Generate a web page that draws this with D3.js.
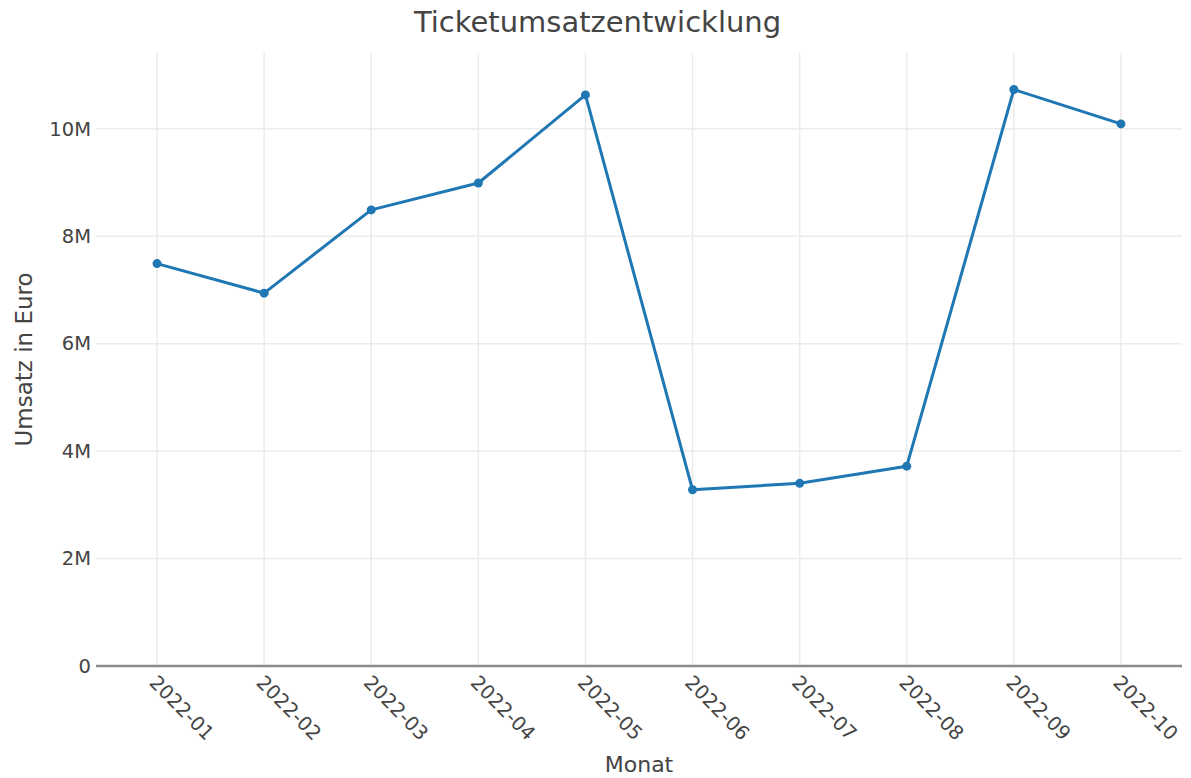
<!DOCTYPE html>
<html><head><meta charset="utf-8">
<script src="https://cdn.jsdelivr.net/npm/d3@7"></script>
<style>body{margin:0;background:#fff}svg{display:block}</style>
</head><body>
<svg id="c" width="1191" height="778"></svg>
<script>
const months = ["2022-01","2022-02","2022-03","2022-04","2022-05","2022-06","2022-07","2022-08","2022-09","2022-10"];
const revenue = [7490000,6940000,8490000,8990000,10630000,3280000,3400000,3720000,10730000,10090000];
const yTicks = [0,2000000,4000000,6000000,8000000,10000000];
const yTickLabels = ["0","2M","4M","6M","8M","10M"];
const title = "Ticketumsatzentwicklung";
const xTitle = "Monat";
const yTitle = "Umsatz in Euro";

const W=1191,H=778;
const m={l:96,r:9,t:53,b:112};
const svg=d3.select("#c");
const font="'DejaVu Sans', Verdana, sans-serif";
const textCol="#444";

const x=d3.scaleLinear().domain([-0.57, months.length-1+0.57]).range([m.l, W-m.r]);
const y=d3.scaleLinear().domain([0, 11410000]).range([H-m.b, m.t]);

// grid
svg.append("g").selectAll("line").data(months).join("line")
  .attr("x1",(d,i)=>x(i)).attr("x2",(d,i)=>x(i))
  .attr("y1",m.t).attr("y2",H-m.b)
  .attr("stroke","#ebebeb").attr("stroke-width",1.5);
svg.append("g").selectAll("line").data(yTicks.slice(1)).join("line")
  .attr("x1",m.l).attr("x2",W-m.r)
  .attr("y1",d=>y(d)).attr("y2",d=>y(d))
  .attr("stroke","#ebebeb").attr("stroke-width",1.5);

// y axis labels
const ya=d3.axisLeft(y).tickValues(yTicks).tickFormat((d,i)=>yTickLabels[i]).tickSize(0).tickPadding(5);
const yg=svg.append("g").attr("transform",`translate(${m.l},0)`).call(ya);
yg.select(".domain").remove();
yg.selectAll("text").attr("font-family",font).attr("font-size",19.5).attr("fill",textCol);

// zero line
svg.append("line").attr("x1",m.l).attr("x2",W-m.r).attr("y1",y(0)).attr("y2",y(0))
  .attr("stroke","#8c8c8c").attr("stroke-width",2.5);

// x tick labels
svg.append("g").selectAll("text").data(months).join("text")
  .attr("transform",(d,i)=>`translate(${x(i)-4},${y(0)+13}) rotate(45)`)
  .attr("text-anchor","start").attr("dy","0.35em")
  .attr("font-family",font).attr("font-size",19.5).attr("fill",textCol)
  .text(d=>d);

// line
const line=d3.line().x((d,i)=>x(i)).y(d=>y(d));
svg.append("path").datum(revenue).attr("d",line)
  .attr("fill","none").attr("stroke","#1f77b4").attr("stroke-width",3).attr("stroke-linejoin","round");
svg.append("g").selectAll("circle").data(revenue).join("circle")
  .attr("cx",(d,i)=>x(i)).attr("cy",d=>y(d)).attr("r",4.5).attr("fill","#1f77b4");

// titles
svg.append("text").attr("x",597.5).attr("y",32).attr("text-anchor","middle")
  .attr("font-family",font).attr("font-size",29).attr("fill",textCol).text(title);
svg.append("text").attr("x",(m.l+W-m.r)/2).attr("y",772).attr("text-anchor","middle")
  .attr("font-family",font).attr("font-size",22).attr("fill",textCol).text(xTitle);
svg.append("text").attr("transform",`translate(32,${(m.t+H-m.b)/2}) rotate(-90)`).attr("text-anchor","middle")
  .attr("font-family",font).attr("font-size",23).attr("fill",textCol).text(yTitle);
</script>
</body></html>
